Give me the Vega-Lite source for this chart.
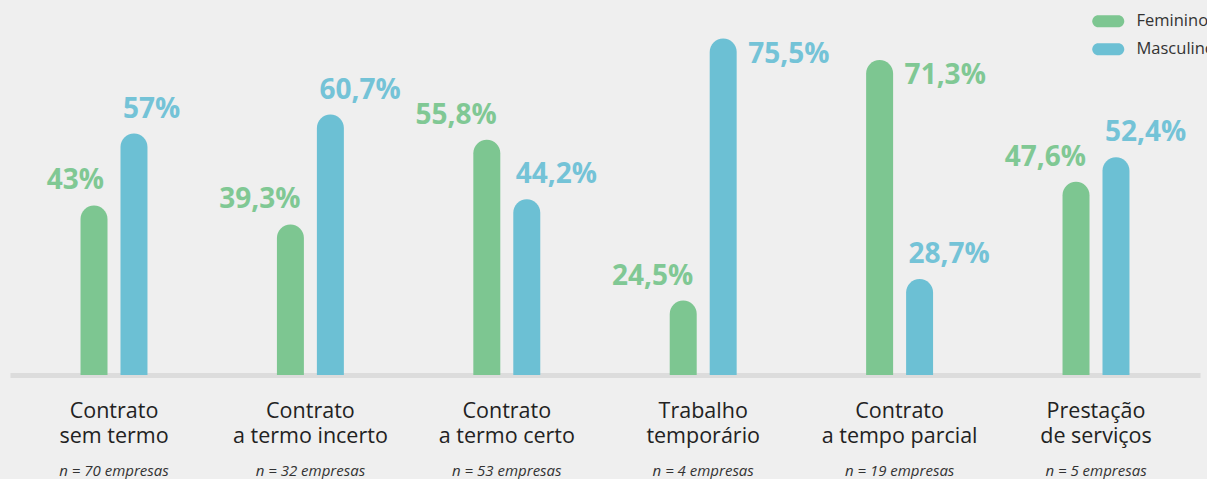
{
  "$schema": "https://vega.github.io/schema/vega-lite/v6.json",
  "width": 1190,
  "height": 375,
  "padding": {"left": 10, "top": 0, "right": 0, "bottom": 0},
  "background": "#efefef",
  "config": {"view": {"stroke": null}, "font": "Open Sans"},
  "data": {
    "values": [
      {"cat": "Contrato|sem termo", "n": "n = 70 empresas", "sexo": "Feminino", "v": 43, "label": "43%"},
      {"cat": "Contrato|sem termo", "n": "n = 70 empresas", "sexo": "Masculino", "v": 57, "label": "57%"},
      {"cat": "Contrato|a termo incerto", "n": "n = 32 empresas", "sexo": "Feminino", "v": 39.3, "label": "39,3%"},
      {"cat": "Contrato|a termo incerto", "n": "n = 32 empresas", "sexo": "Masculino", "v": 60.7, "label": "60,7%"},
      {"cat": "Contrato|a termo certo", "n": "n = 53 empresas", "sexo": "Feminino", "v": 55.8, "label": "55,8%"},
      {"cat": "Contrato|a termo certo", "n": "n = 53 empresas", "sexo": "Masculino", "v": 44.2, "label": "44,2%"},
      {"cat": "Trabalho|temporário", "n": "n = 4 empresas", "sexo": "Feminino", "v": 24.5, "label": "24,5%"},
      {"cat": "Trabalho|temporário", "n": "n = 4 empresas", "sexo": "Masculino", "v": 75.5, "label": "75,5%"},
      {"cat": "Contrato|a tempo parcial", "n": "n = 19 empresas", "sexo": "Feminino", "v": 71.3, "label": "71,3%"},
      {"cat": "Contrato|a tempo parcial", "n": "n = 19 empresas", "sexo": "Masculino", "v": 28.7, "label": "28,7%"},
      {"cat": "Prestação|de serviços", "n": "n = 5 empresas", "sexo": "Feminino", "v": 47.6, "label": "47,6%"},
      {"cat": "Prestação|de serviços", "n": "n = 5 empresas", "sexo": "Masculino", "v": 52.4, "label": "52,4%"}
    ]
  },
  "layer": [
    {
      "mark": {"type": "bar", "cornerRadiusTopLeft": 13.5, "cornerRadiusTopRight": 13.5},
      "encoding": {
        "x": {
          "field": "cat", "type": "nominal", "sort": null,
          "scale": {"paddingInner": 0.593, "paddingOuter": 0.326},
          "axis": {
            "title": null, "labelAngle": 0, "ticks": false,
            "domainColor": "#dcdcdc", "domainWidth": 5,
            "labelFont": "Open Sans", "labelFontSize": 21.5, "labelColor": "#222222",
            "labelLineHeight": 25, "labelPadding": 25, "labelLimit": 400,
            "labelExpr": "split(datum.label, '|')"
          }
        },
        "xOffset": {"field": "sexo", "type": "nominal", "scale": {"paddingInner": 0.325, "paddingOuter": 0.1625}},
        "y": {"field": "v", "type": "quantitative", "scale": {"domain": [10, 83], "zero": false, "nice": false}, "axis": null},
        "y2": {"datum": 10},
        "color": {
          "field": "sexo", "type": "nominal",
          "scale": {"domain": ["Feminino", "Masculino"], "range": ["#7dc691", "#6cc0d4"]},
          "legend": {
            "title": null, "orient": "none", "legendX": 1090, "legendY": 13,
            "symbolType": "M-1.25,-0.75 L1.25,-0.75 C1.664,-0.75 2,-0.414 2,0 C2,0.414 1.664,0.75 1.25,0.75 L-1.25,0.75 C-1.664,0.75 -2,0.414 -2,0 C-2,-0.414 -1.664,-0.75 -1.25,-0.75 Z",
            "symbolSize": 256, "symbolStrokeWidth": 0, "symbolOpacity": 1,
            "labelFont": "Open Sans", "labelFontSize": 16.5, "labelColor": "#333333",
            "labelOffset": 20, "rowPadding": 11, "labelLimit": 200
          }
        }
      }
    },
    {
      "transform": [{"filter": "datum.sexo === 'Feminino' && datum.v < 70"}],
      "mark": {"type": "text", "align": "right", "baseline": "alphabetic", "dx": 10, "dy": -16, "fontSize": 28, "fontWeight": "bold", "font": "Open Sans", "color": "#80c894"},
      "encoding": {
        "x": {"field": "cat", "type": "nominal", "sort": null},
        "xOffset": {"field": "sexo", "type": "nominal"},
        "y": {"field": "v", "type": "quantitative"},
        "text": {"field": "label"}
      }
    },
    {
      "transform": [{"filter": "datum.sexo === 'Masculino' && datum.v < 70"}],
      "mark": {"type": "text", "align": "left", "baseline": "alphabetic", "dx": -11, "dy": -16, "fontSize": 28, "fontWeight": "bold", "font": "Open Sans", "color": "#74c3d7"},
      "encoding": {
        "x": {"field": "cat", "type": "nominal", "sort": null},
        "xOffset": {"field": "sexo", "type": "nominal"},
        "y": {"field": "v", "type": "quantitative"},
        "text": {"field": "label"}
      }
    },
    {
      "transform": [{"filter": "datum.v >= 70"}],
      "mark": {"type": "text", "align": "left", "baseline": "alphabetic", "dx": 25, "dy": 24, "fontSize": 28, "fontWeight": "bold", "font": "Open Sans"},
      "encoding": {
        "x": {"field": "cat", "type": "nominal", "sort": null},
        "xOffset": {"field": "sexo", "type": "nominal"},
        "y": {"field": "v", "type": "quantitative"},
        "text": {"field": "label"},
        "color": {"condition": {"test": "datum.sexo === 'Feminino'", "value": "#80c894"}, "value": "#74c3d7"}
      }
    },
    {
      "transform": [{"filter": "datum.sexo === 'Feminino'"}],
      "mark": {"type": "text", "align": "center", "baseline": "alphabetic", "dy": 101, "fontSize": 15, "fontStyle": "italic", "font": "Open Sans", "color": "#333333"},
      "encoding": {
        "x": {"field": "cat", "type": "nominal", "sort": null},
        "y": {"datum": 10},
        "text": {"field": "n"}
      }
    }
  ]
}
